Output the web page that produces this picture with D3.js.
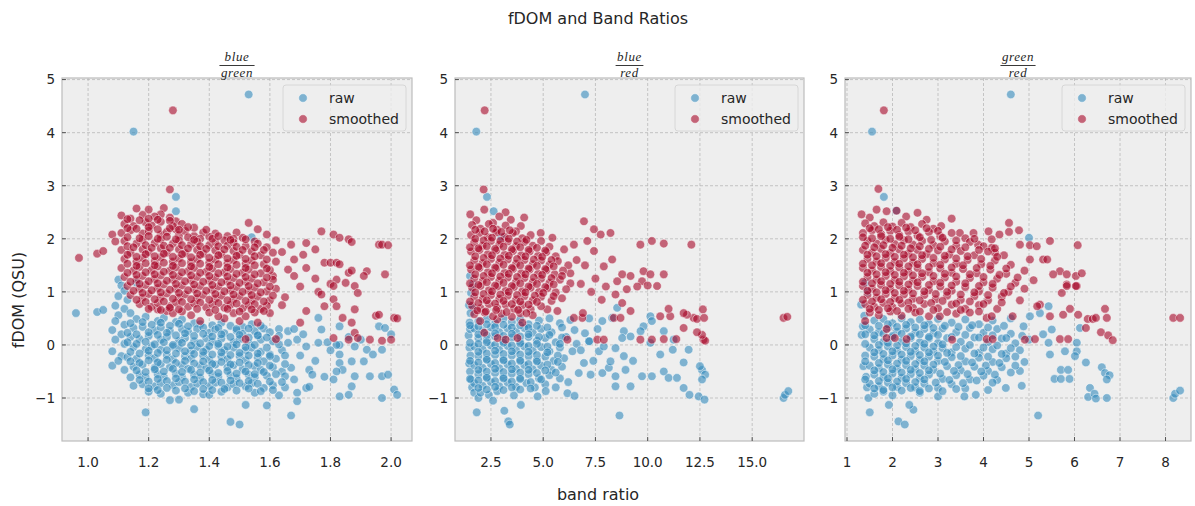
<!DOCTYPE html>
<html lang="en">
<head>
<meta charset="UTF-8">
<title>fDOM and Band Ratios</title>
<script src="https://cdn.jsdelivr.net/npm/d3@7"></script>
<style>
    body { margin: 0; background: #fff; }
    text { font-family: "DejaVu Sans", sans-serif; fill: #262626; }
    .grid line { stroke: #b2b2b2; stroke-width: 0.7; stroke-dasharray: 3,2; }
    .frame { fill: none; stroke: #bcbcbc; stroke-width: 1.2; }
    .tick-mark { stroke: #333; stroke-width: 0.8; }
    .frac { font-family: "Liberation Serif", serif; font-style: italic; font-size: 13px; letter-spacing: 0.6px; }
    .dot { stroke: #fff; stroke-width: 0.8; stroke-opacity: 0.6; fill-opacity: 0.6; }
</style>
</head>
<body>
<div id="chart"></div>
<script>
    // ---------- data ----------
    var seriesNames = ["raw", "smoothed"];
    var seriesColors = ["#348ABD", "#A60628"];
    var panelRatios = [["blue", "green"], ["blue", "red"], ["green", "red"]];
    var xDomains = [[0.914, 2.069], [0.78, 17.48], [0.956, 8.56]];
    var xTicks = [[1.0, 1.2, 1.4, 1.6, 1.8, 2.0], [2.5, 5.0, 7.5, 10.0, 12.5, 15.0], [1, 2, 3, 4, 5, 6, 7, 8]];
    var xTickFormats = [".1f", ".1f", "d"];
    var yDomain = [-1.81, 5.03];
    var yTicks = [-1, 0, 1, 2, 3, 4, 5];

    // blue / green
    var rawBlueGreen = [
        [1.53,4.72],[1.15,4.02],[1.29,2.79],[1.29,2.52],[1.54,2.03],
        [0.96,0.6],[1.03,0.62],[1.05,0.66],
        [1.1,1.23],[1.11,1.12],[1.16,1.17],[1.12,1.02],[1.1,0.92],[1.13,0.85],[1.09,0.74],[1.12,0.68],[1.1,0.56],[1.14,0.6],[1.09,0.45],[1.12,0.38],[1.08,0.28],[1.11,0.2],[1.09,0.1],[1.12,0.02],[1.08,-0.12],[1.11,-0.21],[1.08,-0.39],[1.1,-0.3],[1.12,-0.47],[1.14,-0.61],[1.15,-0.77],[1.19,-1.27],
        [1.16,0.49],[1.19,0.53],[1.23,0.45],[1.25,0.51],[1.29,0.43],[1.31,0.48],[1.35,0.41],[1.37,0.39],[1.41,0.37],[1.44,0.42],[1.47,0.36],[1.51,0.34],[1.54,0.39],[1.58,0.31],[1.56,0.19],
        [1.15,0.32],[1.18,0.34],[1.22,0.27],[1.24,0.33],[1.27,0.26],[1.31,0.3],[1.33,0.25],[1.36,0.3],[1.4,0.23],[1.42,0.29],[1.45,0.22],[1.49,0.27],[1.51,0.21],[1.55,0.26],[1.6,0.24],[1.63,0.3],[1.66,0.26],
        [1.14,0.15],[1.17,0.11],[1.2,0.17],[1.24,0.1],[1.26,0.15],[1.3,0.08],[1.32,0.13],[1.35,0.07],[1.39,0.12],[1.41,0.06],[1.44,0.12],[1.48,0.05],[1.5,0.11],[1.53,0.04],[1.57,0.1],[1.61,0.07],[1.66,0.04],[1.69,0.1],[1.72,-0.03],[1.76,0.04],[1.79,0.05],[1.83,0.0],[1.88,-0.03],[1.92,-0.09],
        [1.15,-0.04],[1.19,-0.08],[1.21,-0.02],[1.24,-0.09],[1.28,-0.03],[1.3,-0.06],[1.34,-0.11],[1.36,-0.04],[1.39,-0.09],[1.43,-0.02],[1.45,-0.1],[1.48,-0.05],[1.52,-0.1],[1.54,-0.05],[1.57,-0.13],[1.6,-0.18],[1.64,-0.1],
        [1.13,-0.23],[1.16,-0.26],[1.2,-0.2],[1.22,-0.25],[1.26,-0.19],[1.28,-0.27],[1.32,-0.21],[1.34,-0.26],[1.38,-0.2],[1.4,-0.28],[1.44,-0.22],[1.46,-0.27],[1.5,-0.21],[1.52,-0.29],[1.56,-0.23],[1.58,-0.31],[1.62,-0.26],[1.67,-0.43],
        [1.15,-0.41],[1.18,-0.37],[1.22,-0.43],[1.24,-0.36],[1.27,-0.42],[1.31,-0.38],[1.33,-0.45],[1.37,-0.39],[1.39,-0.44],[1.42,-0.37],[1.46,-0.42],[1.48,-0.38],[1.51,-0.46],[1.55,-0.4],[1.57,-0.47],[1.61,-0.42],[1.64,-0.5],
        [1.17,-0.56],[1.19,-0.61],[1.23,-0.55],[1.25,-0.6],[1.29,-0.54],[1.31,-0.61],[1.35,-0.56],[1.37,-0.62],[1.41,-0.55],[1.43,-0.6],[1.47,-0.57],[1.49,-0.63],[1.53,-0.56],[1.55,-0.61],[1.59,-0.58],[1.65,-0.59],[1.68,-0.65],
        [1.18,-0.74],[1.22,-0.78],[1.24,-0.72],[1.28,-0.76],[1.3,-0.7],[1.34,-0.79],[1.36,-0.73],[1.4,-0.77],[1.42,-0.71],[1.46,-0.8],[1.48,-0.74],[1.52,-0.78],[1.54,-0.72],[1.58,-0.81],[1.61,-0.76],[1.65,-0.8],
        [1.2,-0.88],[1.24,-0.92],[1.27,-1.04],[1.3,-1.03],[1.33,-0.9],[1.35,-1.21],[1.38,-0.93],[1.4,-0.94],[1.44,-0.88],[1.47,-1.45],[1.5,-1.5],[1.52,-1.13],[1.55,-0.9],[1.59,-1.14],[1.63,-0.95],[1.67,-1.33],[1.69,-0.9],[1.69,-1.06],[1.72,-0.81],
        [1.73,-0.47],[1.74,-0.56],[1.73,-0.79],[1.77,0.29],[1.76,0.51],[1.7,-0.2],[1.75,-0.3],[1.83,0.35],[1.82,0.0],[1.83,-0.18],[1.83,-0.34],[1.84,-0.47],[1.82,-0.5],[1.81,-0.65],[1.88,-0.59],[1.87,-0.78],[1.83,-0.97],[1.86,-0.94],[1.87,-0.31],[1.86,0.15],[1.91,-0.31],[1.93,-0.59],[1.97,-0.59],[1.99,-0.56],[1.97,-1.0],[2.01,-0.84],[2.02,-0.94],[1.96,0.35],[1.98,0.32],[1.94,-0.18],[1.97,-0.09],[2.0,0.2],[1.9,0.1],[1.8,-0.1],[1.78,-0.6],[1.68,0.3],[1.71,0.2],
        [1.14,0.41],[1.18,0.43],[1.21,0.38],[1.24,0.42],[1.27,0.36],[1.3,0.4],[1.33,0.35],[1.38,0.33],[1.43,0.32],[1.49,0.3],[1.53,0.31],[1.57,0.36],
        [1.13,0.23],[1.16,0.2],[1.2,0.24],[1.23,0.19],[1.26,0.23],[1.29,0.18],[1.32,0.22],[1.35,0.17],[1.38,0.21],[1.41,0.16],[1.44,0.2],[1.47,0.15],[1.5,0.19],[1.53,0.14],[1.56,0.18],[1.59,0.14],[1.63,0.17],
        [1.13,0.05],[1.16,0.02],[1.19,0.06],[1.22,0.01],[1.25,0.05],[1.28,0.0],[1.31,0.04],[1.34,-0.01],[1.37,0.03],[1.4,-0.02],[1.43,0.02],[1.46,-0.03],[1.49,0.01],[1.52,-0.04],[1.55,0.0],[1.59,-0.05],[1.63,0.01],
        [1.14,-0.13],[1.17,-0.16],[1.2,-0.11],[1.23,-0.15],[1.26,-0.1],[1.29,-0.16],[1.32,-0.12],[1.35,-0.17],[1.38,-0.13],[1.41,-0.18],[1.44,-0.14],[1.47,-0.19],[1.5,-0.15],[1.53,-0.2],[1.56,-0.16],[1.6,-0.21],[1.65,-0.2],
        [1.14,-0.31],[1.17,-0.34],[1.2,-0.29],[1.23,-0.33],[1.26,-0.28],[1.29,-0.34],[1.32,-0.3],[1.35,-0.35],[1.38,-0.31],[1.41,-0.36],[1.44,-0.32],[1.47,-0.37],[1.5,-0.33],[1.53,-0.38],[1.56,-0.34],[1.6,-0.39],[1.65,-0.36],
        [1.16,-0.48],[1.19,-0.51],[1.22,-0.46],[1.25,-0.5],[1.28,-0.45],[1.31,-0.51],[1.34,-0.47],[1.37,-0.52],[1.4,-0.48],[1.43,-0.53],[1.46,-0.49],[1.49,-0.54],[1.52,-0.5],[1.55,-0.55],[1.58,-0.51],[1.62,-0.55],
        [1.17,-0.66],[1.2,-0.69],[1.23,-0.64],[1.26,-0.68],[1.29,-0.63],[1.32,-0.69],[1.35,-0.65],[1.38,-0.7],[1.41,-0.66],[1.44,-0.71],[1.47,-0.67],[1.5,-0.72],[1.53,-0.68],[1.56,-0.73],[1.6,-0.69],[1.64,-0.7],
        [1.2,-0.82],[1.23,-0.85],[1.26,-0.81],[1.29,-0.86],[1.32,-0.82],[1.35,-0.87],[1.38,-0.83],[1.41,-0.85],[1.45,-0.83],[1.49,-0.86],[1.53,-0.82],[1.57,-0.87],[1.61,-0.85]
    ];
    var smoothBlueGreen = [
        [1.28,4.42],[1.27,2.93],[0.97,1.64],[1.03,1.72],[1.05,1.77],
        [1.11,2.44],[1.16,2.57],[1.2,2.55],[1.25,2.58],[1.24,2.46],[1.29,2.33],[1.29,2.18],[1.08,2.08],[1.09,1.95],[1.14,2.38],[1.18,2.45],[1.22,2.42],[1.27,2.4],
        [1.53,2.3],[1.56,2.18],[1.51,2.02],[1.59,2.08],[1.62,1.97],[1.67,1.89],[1.72,1.92],[1.77,2.14],[1.81,2.08],[1.83,2.02],[1.86,1.99],[1.87,1.94],[1.96,1.89],[1.97,1.89],[1.99,1.88],[1.42,2.1],[1.46,2.05],[1.49,2.12],[1.38,2.12],[1.35,2.05],
        [1.75,1.8],[1.71,1.7],[1.68,1.61],[1.78,1.55],[1.8,1.55],[1.82,1.55],[1.83,1.52],[1.86,1.36],[1.87,1.4],[1.92,1.39],[1.91,1.3],[1.98,1.33],[1.82,1.23],[1.85,1.17],[1.88,1.11],[1.8,1.15],[1.66,1.42],[1.61,1.3],[1.68,1.3],[1.72,1.45],[1.75,1.25],[1.64,1.75],[1.7,1.1],[1.76,1.0],[1.78,0.73],[1.72,0.64],[1.7,0.42],[1.81,0.86],[1.82,0.73],[1.84,0.51],[1.88,0.67],[1.87,0.42],[1.88,0.23],[1.86,0.1],[1.81,0.13],[1.89,0.13],[1.93,0.1],[1.97,0.08],[2.0,0.1],[1.95,0.55],[1.96,0.57],[2.01,0.51],[2.02,0.5],[1.89,0.98],[1.81,1.11],[1.77,0.95],[1.65,0.9],[1.62,0.11],[1.52,0.11],[1.56,0.42],[1.5,0.45],[1.37,0.45],[1.23,0.67],[1.26,0.64],[1.45,0.5],[1.6,0.6],[1.64,0.75],
        [1.12,2.28],[1.15,2.24],[1.19,2.31],[1.21,2.25],[1.24,2.32],[1.28,2.24],[1.31,2.28],[1.35,2.21],
        [1.11,2.11],[1.14,2.16],[1.18,2.1],[1.2,2.15],[1.24,2.08],[1.26,2.13],[1.3,2.07],[1.32,2.15],[1.37,2.0],[1.4,2.04],[1.45,1.97],[1.48,2.0],[1.55,1.95],
        [1.12,1.96],[1.16,1.91],[1.18,1.98],[1.22,1.92],[1.24,1.99],[1.28,1.91],[1.3,1.97],[1.34,1.9],[1.36,1.95],[1.4,1.88],[1.42,1.94],[1.46,1.87],[1.48,1.93],[1.52,1.86],[1.56,1.91],[1.59,1.84],
        [1.11,1.79],[1.14,1.74],[1.18,1.8],[1.2,1.75],[1.24,1.82],[1.26,1.74],[1.3,1.8],[1.32,1.73],[1.36,1.79],[1.38,1.72],[1.42,1.78],[1.44,1.71],[1.48,1.77],[1.5,1.7],[1.54,1.76],[1.57,1.69],[1.61,1.74],
        [1.12,1.62],[1.16,1.57],[1.18,1.64],[1.22,1.58],[1.24,1.65],[1.28,1.57],[1.3,1.63],[1.34,1.56],[1.36,1.62],[1.4,1.55],[1.42,1.61],[1.46,1.54],[1.48,1.6],[1.52,1.53],[1.54,1.59],[1.58,1.52],[1.62,1.57],
        [1.11,1.45],[1.15,1.4],[1.17,1.47],[1.21,1.41],[1.23,1.48],[1.27,1.4],[1.29,1.46],[1.33,1.39],[1.35,1.45],[1.39,1.38],[1.41,1.44],[1.45,1.37],[1.47,1.43],[1.51,1.36],[1.53,1.42],[1.57,1.35],[1.6,1.41],
        [1.12,1.28],[1.16,1.23],[1.18,1.3],[1.22,1.24],[1.24,1.31],[1.28,1.23],[1.3,1.29],[1.34,1.22],[1.36,1.28],[1.4,1.21],[1.42,1.27],[1.46,1.2],[1.48,1.26],[1.52,1.19],[1.54,1.25],[1.58,1.18],[1.61,1.23],
        [1.13,1.11],[1.17,1.06],[1.19,1.13],[1.23,1.07],[1.25,1.14],[1.29,1.06],[1.31,1.12],[1.35,1.05],[1.37,1.11],[1.41,1.04],[1.43,1.1],[1.47,1.03],[1.49,1.09],[1.53,1.02],[1.55,1.08],[1.59,1.01],[1.62,1.06],
        [1.14,0.94],[1.18,0.89],[1.2,0.96],[1.24,0.9],[1.26,0.97],[1.3,0.89],[1.32,0.95],[1.36,0.88],[1.38,0.94],[1.42,0.87],[1.44,0.93],[1.48,0.86],[1.5,0.92],[1.54,0.85],[1.56,0.91],[1.6,0.84],
        [1.17,0.77],[1.21,0.72],[1.23,0.79],[1.27,0.73],[1.29,0.8],[1.33,0.72],[1.35,0.78],[1.39,0.71],[1.41,0.77],[1.45,0.7],[1.47,0.76],[1.51,0.69],[1.53,0.75],[1.57,0.68],[1.59,0.74],
        [1.28,0.6],[1.31,0.63],[1.34,0.56],[1.4,0.61],[1.43,0.54],[1.48,0.6],[1.52,0.54],[1.55,0.61],
        [1.13,2.37],[1.17,2.35],[1.2,2.38],[1.23,2.36],[1.27,2.34],
        [1.13,2.2],[1.16,2.19],[1.2,2.22],[1.23,2.18],[1.27,2.2],[1.3,2.17],[1.33,2.22],[1.39,2.17],
        [1.13,2.03],[1.17,2.01],[1.2,2.05],[1.23,2.0],[1.26,2.04],[1.29,1.99],[1.33,2.03],[1.35,1.98],[1.41,2.0],[1.43,2.05],[1.47,1.98],[1.52,1.99],
        [1.13,1.86],[1.15,1.84],[1.19,1.88],[1.21,1.83],[1.25,1.87],[1.27,1.83],[1.31,1.88],[1.33,1.82],[1.37,1.86],[1.39,1.81],[1.43,1.86],[1.45,1.8],[1.49,1.85],[1.51,1.79],[1.55,1.84],[1.58,1.79],
        [1.13,1.7],[1.16,1.66],[1.19,1.71],[1.22,1.67],[1.25,1.72],[1.28,1.66],[1.31,1.71],[1.34,1.65],[1.37,1.7],[1.4,1.64],[1.43,1.69],[1.46,1.63],[1.49,1.68],[1.52,1.62],[1.55,1.67],[1.59,1.61],
        [1.13,1.53],[1.16,1.49],[1.19,1.54],[1.22,1.5],[1.25,1.55],[1.28,1.49],[1.31,1.54],[1.34,1.48],[1.37,1.53],[1.4,1.47],[1.43,1.52],[1.46,1.46],[1.49,1.51],[1.52,1.45],[1.55,1.5],[1.59,1.44],
        [1.13,1.36],[1.16,1.32],[1.19,1.37],[1.22,1.33],[1.25,1.38],[1.28,1.32],[1.31,1.37],[1.34,1.31],[1.37,1.36],[1.4,1.3],[1.43,1.35],[1.46,1.29],[1.49,1.34],[1.52,1.28],[1.55,1.33],[1.59,1.27],
        [1.14,1.19],[1.17,1.15],[1.2,1.2],[1.23,1.16],[1.26,1.21],[1.29,1.15],[1.32,1.2],[1.35,1.14],[1.38,1.19],[1.41,1.13],[1.44,1.18],[1.47,1.12],[1.5,1.17],[1.53,1.11],[1.56,1.16],[1.6,1.1],
        [1.15,1.02],[1.18,0.98],[1.21,1.03],[1.24,0.99],[1.27,1.04],[1.3,0.98],[1.33,1.03],[1.36,0.97],[1.39,1.02],[1.42,0.96],[1.45,1.01],[1.48,0.95],[1.51,1.0],[1.54,0.94],[1.57,0.99],[1.61,0.93],
        [1.16,0.85],[1.19,0.81],[1.22,0.86],[1.25,0.82],[1.28,0.87],[1.31,0.81],[1.34,0.86],[1.37,0.8],[1.4,0.85],[1.43,0.79],[1.46,0.84],[1.49,0.78],[1.52,0.83],[1.55,0.77],[1.58,0.82],
        [1.2,0.68],[1.24,0.66],[1.27,0.7],[1.3,0.67],[1.36,0.68],[1.42,0.66],[1.46,0.68],[1.5,0.63],[1.54,0.67],[1.58,0.64]
    ];

    // blue / red
    var rawBlueRed = [
        [7.0,4.72],[1.8,4.02],[2.31,2.79],[2.63,2.52],[3.0,2.03],
        [1.5,1.3],[1.63,1.14],[1.55,0.98],[1.63,0.7],[1.45,0.75],[1.52,0.6],[1.48,0.42],[1.43,0.18],[1.5,0.3],[1.47,-0.05],[1.52,-0.2],[1.46,-0.35],[1.5,-0.5],[1.55,-0.65],[1.6,-0.8],[1.7,-0.9],[1.82,-1.27],[1.9,-1.0],
        [1.9,0.45],[2.3,0.49],[2.7,0.41],[3.1,0.5],[3.5,0.43],[3.9,0.48],[4.3,0.39],[4.8,0.46],[5.3,0.5],[5.8,0.41],[6.3,0.47],[7.2,0.5],[7.83,0.45],[8.3,0.51],[8.54,0.7],
        [1.7,0.31],[2.1,0.26],[2.5,0.33],[2.9,0.24],[3.3,0.31],[3.7,0.25],[4.1,0.32],[4.5,0.23],[4.9,0.3],[5.4,0.24],[5.9,0.33],[6.5,0.28],[7.0,0.22],
        [1.9,0.13],[2.3,0.09],[2.7,0.16],[3.1,0.07],[3.5,0.14],[3.9,0.06],[4.3,0.15],[4.7,0.08],[5.1,0.13],[5.6,0.05],[6.1,0.15],[7.2,0.07],[6.6,0.02],
        [1.7,-0.03],[2.1,-0.08],[2.5,-0.01],[2.9,-0.09],[3.3,-0.02],[3.7,-0.1],[4.1,-0.03],[4.5,-0.11],[4.9,-0.04],[5.3,-0.12],[5.8,-0.05],[6.4,-0.12],[7.67,-0.12],[7.9,-0.03],
        [1.9,-0.21],[2.3,-0.26],[2.7,-0.19],[3.1,-0.27],[3.5,-0.2],[3.9,-0.28],[4.3,-0.21],[4.7,-0.29],[5.1,-0.22],[5.5,-0.3],[6.0,-0.25],[6.95,-0.34],
        [1.7,-0.38],[2.1,-0.43],[2.5,-0.36],[2.9,-0.44],[3.3,-0.37],[3.7,-0.45],[4.1,-0.38],[4.5,-0.46],[4.9,-0.39],[5.4,-0.47],[5.9,-0.41],[6.7,-0.53],
        [1.9,-0.55],[2.3,-0.6],[2.7,-0.53],[3.1,-0.61],[3.5,-0.54],[3.9,-0.62],[4.3,-0.55],[4.8,-0.63],[5.3,-0.57],[5.8,-0.63],[7.27,-0.56],[7.83,-0.53],[8.14,-0.43],[8.22,-0.31],
        [1.7,-0.72],[2.1,-0.77],[2.5,-0.7],[2.9,-0.78],[3.3,-0.71],[3.7,-0.79],[4.2,-0.72],[4.6,-0.8],[5.1,-0.74],[5.6,-0.8],
        [2.0,-0.9],[2.4,-0.94],[2.8,-0.87],[3.14,-1.24],[3.33,-1.44],[3.4,-1.5],[3.93,-1.13],[4.73,-0.97],[5.12,-0.87],[6.16,-0.91],[6.5,-0.96],[2.6,-1.05],[3.6,-0.95],
        [8.65,-1.33],[8.46,-0.78],[9.18,-0.78],[9.73,-0.59],[10.2,-0.59],[10.77,-0.5],[11.0,-0.62],[11.4,-0.62],[11.72,-0.81],[12.0,-0.94],[12.44,-0.97],[12.72,-1.03],[12.6,-0.47],[12.75,-0.56],[12.6,-0.65],[12.5,-0.4],[11.96,-0.09],[11.72,-0.33],[11.2,-0.09],[10.6,-0.18],[10.77,0.26],[11.24,0.1],[10.13,0.54],[10.2,0.45],[9.8,0.35],[9.66,0.26],[10.13,0.04],[9.18,0.16],[8.86,0.26],[8.78,0.13],[8.46,-0.06],[8.86,-0.21],[8.94,-0.47],[8.46,-0.59],[7.2,0.07],[16.5,-1.0],[16.57,-0.94],[16.73,-0.87],[7.6,0.3],[6.8,-0.1],[7.4,-0.3],[9.3,-0.3],[6.2,-0.7],
        [1.5,0.37],[1.9,0.35],[2.3,0.39],[2.7,0.34],[3.1,0.38],[3.5,0.33],[3.9,0.37],[4.3,0.32],[4.7,0.36],[5.2,0.33],
        [1.9,0.2],[2.3,0.18],[2.7,0.22],[3.1,0.17],[3.5,0.21],[3.9,0.16],[4.3,0.2],[4.8,0.15],[5.3,0.19],[5.9,0.14],
        [1.5,0.04],[1.9,0.02],[2.3,0.05],[2.7,0.0],[3.1,0.04],[3.5,-0.01],[3.9,0.03],[4.3,-0.02],[4.7,0.02],[5.2,-0.03],[5.8,0.02],
        [1.9,-0.13],[2.3,-0.16],[2.7,-0.11],[3.1,-0.17],[3.5,-0.12],[3.9,-0.18],[4.3,-0.13],[4.7,-0.19],[5.2,-0.14],[5.7,-0.2],
        [1.5,-0.3],[1.9,-0.33],[2.3,-0.28],[2.7,-0.34],[3.1,-0.29],[3.5,-0.35],[3.9,-0.3],[4.3,-0.36],[4.7,-0.31],[5.2,-0.37],[5.7,-0.32],
        [1.9,-0.47],[2.3,-0.5],[2.7,-0.45],[3.1,-0.51],[3.5,-0.46],[3.9,-0.52],[4.3,-0.47],[4.7,-0.53],[5.1,-0.48],[5.6,-0.52],
        [1.5,-0.64],[1.9,-0.67],[2.3,-0.62],[2.7,-0.68],[3.1,-0.63],[3.5,-0.69],[3.9,-0.64],[4.4,-0.7],[4.9,-0.65],
        [1.9,-0.81],[2.3,-0.84],[2.7,-0.79],[3.1,-0.85],[3.5,-0.8],[3.9,-0.84],[4.4,-0.82]
    ];
    var smoothBlueRed = [
        [2.2,4.42],[2.15,2.93],[16.5,0.51],[16.68,0.53],
        [1.51,2.46],[2.18,2.55],[3.2,2.5],[3.45,2.36],[4.09,2.4],[3.93,2.24],[4.88,2.11],[5.44,2.02],[6.47,1.89],[6.95,2.33],[7.43,2.18],[7.75,2.08],[8.22,2.11],[7.11,1.96],[9.65,1.89],[10.2,1.96],[10.77,1.91],[12.09,1.89],[1.8,2.35],[2.6,2.3],[2.9,2.42],
        [6.0,1.8],[7.9,1.48],[8.3,1.61],[7.43,1.77],[8.78,1.33],[9.18,1.3],[9.8,1.39],[10.13,1.33],[10.77,1.33],[9.73,1.2],[10.45,1.11],[8.54,1.2],[7.0,1.5],[6.6,1.6],[6.3,1.35],[7.5,1.25],[8.0,1.1],[9.0,1.05],[9.5,1.1],[10.0,1.12],[7.3,1.0],[6.8,1.15],[8.46,0.95],[8.78,0.79],[7.8,0.85],
        [2.82,0.13],[3.2,0.1],[3.77,0.13],[6.16,0.1],[7.59,0.1],[7.9,0.1],[9.65,0.1],[10.2,0.1],[10.77,0.11],[11.37,0.11],[12.67,0.1],[12.75,0.08],[12.6,0.19],[12.36,0.24],[11.72,0.32],[12.2,0.51],[12.36,0.49],[12.64,0.67],[12.7,0.51],[11.88,0.57],[11.72,0.6],[11.08,0.54],[10.6,0.54],[11.0,0.68],[9.18,0.64],[8.38,0.51],[8.7,0.51],[6.87,0.51],[6.47,0.51],[6.9,0.6],[2.18,0.23],[1.98,0.45],[2.8,0.48],[4.0,0.42],[5.2,0.67],[5.68,0.64],
        [1.6,2.26],[2.0,2.19],[2.4,2.28],[2.8,2.17],[3.2,2.25],[3.7,2.14],
        [1.55,2.07],[1.95,2.11],[2.35,2.03],[2.75,2.12],[3.15,2.04],[3.55,2.11],[4.0,2.01],[4.4,2.07],
        [1.7,1.93],[2.1,1.87],[2.5,1.96],[2.9,1.89],[3.3,1.95],[3.7,1.86],[4.1,1.94],[4.5,1.87],[4.9,1.96],[5.3,1.85],
        [1.55,1.76],[1.95,1.79],[2.35,1.71],[2.75,1.78],[3.15,1.7],[3.55,1.77],[3.95,1.69],[4.35,1.76],[4.75,1.68],[5.15,1.75],[5.6,1.67],
        [1.7,1.59],[2.1,1.54],[2.5,1.62],[2.9,1.55],[3.3,1.61],[3.7,1.53],[4.1,1.6],[4.5,1.52],[4.9,1.59],[5.3,1.51],[5.7,1.58],[6.2,1.5],
        [1.55,1.42],[1.95,1.45],[2.35,1.37],[2.75,1.44],[3.15,1.36],[3.55,1.43],[3.95,1.35],[4.35,1.42],[4.75,1.34],[5.15,1.41],[5.55,1.33],[5.95,1.4],
        [1.7,1.25],[2.1,1.2],[2.5,1.28],[2.9,1.21],[3.3,1.27],[3.7,1.19],[4.1,1.26],[4.5,1.18],[4.9,1.25],[5.3,1.17],[5.8,1.23],[6.3,1.16],
        [1.6,1.08],[2.0,1.11],[2.4,1.03],[2.8,1.1],[3.2,1.02],[3.6,1.09],[4.0,1.01],[4.4,1.08],[4.8,1.0],[5.2,1.07],[5.6,0.99],[6.1,1.05],
        [1.7,0.91],[2.1,0.86],[2.5,0.94],[2.9,0.87],[3.3,0.93],[3.7,0.85],[4.1,0.92],[4.5,0.84],[4.9,0.91],[5.4,0.83],[5.9,0.88],
        [1.6,0.74],[2.0,0.69],[2.4,0.77],[2.8,0.7],[3.2,0.76],[3.6,0.68],[4.0,0.75],[4.4,0.67],[4.9,0.73],
        [1.7,0.58],[2.2,0.61],[2.6,0.54],[3.0,0.59],[3.5,0.53],[3.9,0.6],[4.5,0.56],
        [1.75,2.17],[2.2,2.14],[2.6,2.19],[3.0,2.13],[3.4,2.16],
        [1.75,2.0],[2.15,1.97],[2.55,2.02],[2.95,1.96],[3.35,2.0],[3.75,1.95],[4.2,1.98],
        [1.5,1.84],[1.9,1.82],[2.3,1.86],[2.7,1.81],[3.1,1.85],[3.5,1.8],[3.9,1.84],[4.3,1.79],[4.7,1.83],[5.1,1.78],
        [1.75,1.67],[2.15,1.64],[2.55,1.69],[2.95,1.63],[3.35,1.68],[3.75,1.62],[4.15,1.67],[4.55,1.61],[4.95,1.66],[5.4,1.6],
        [1.5,1.5],[1.9,1.47],[2.3,1.52],[2.7,1.46],[3.1,1.51],[3.5,1.45],[3.9,1.5],[4.3,1.44],[4.7,1.49],[5.1,1.43],[5.5,1.48],
        [1.75,1.33],[2.15,1.3],[2.55,1.35],[2.95,1.29],[3.35,1.34],[3.75,1.28],[4.15,1.33],[4.55,1.27],[4.95,1.32],[5.4,1.26],[5.9,1.3],
        [1.5,1.16],[1.9,1.13],[2.3,1.18],[2.7,1.12],[3.1,1.17],[3.5,1.11],[3.9,1.16],[4.3,1.1],[4.7,1.15],[5.1,1.09],[5.5,1.14],
        [1.75,0.99],[2.15,0.96],[2.55,1.01],[2.95,0.95],[3.35,1.0],[3.75,0.94],[4.15,0.99],[4.6,0.93],[5.0,0.98],[5.5,0.92],
        [1.5,0.82],[1.9,0.79],[2.3,0.84],[2.7,0.78],[3.1,0.83],[3.5,0.77],[3.9,0.82],[4.3,0.76],[4.7,0.81],
        [1.85,0.65],[2.25,0.63],[2.75,0.66],[3.25,0.62],[3.8,0.66],[4.2,0.6]
    ];

    // green / red
    var rawGreenRed = [
        [4.6,4.72],[1.55,4.02],[1.81,2.79],[2.08,2.53],[5.0,2.02],
        [1.4,1.17],[1.31,0.76],[1.32,0.19],[1.45,1.0],[1.38,0.55],[1.35,0.35],[1.4,-0.2],[1.36,-0.4],[1.42,-0.6],[1.44,-0.8],[1.5,-1.27],[1.47,-1.0],
        [1.6,0.46],[1.8,0.49],[2.0,0.41],[2.2,0.5],[2.4,0.43],[2.6,0.48],[2.8,0.4],[3.0,0.49],[3.3,0.42],[3.6,0.48],[3.9,0.39],[4.2,0.46],[4.6,0.5],[5.02,0.54],[5.24,0.6],[5.43,0.73],[4.88,0.35],
        [1.5,0.29],[1.7,0.24],[1.9,0.32],[2.1,0.25],[2.3,0.31],[2.5,0.23],[2.7,0.3],[2.9,0.22],[3.1,0.31],[3.4,0.24],[3.7,0.32],[4.0,0.23],[4.3,0.3],[4.6,0.21],[5.5,0.29],[5.31,0.2],[6.12,0.32],
        [1.6,0.11],[1.8,0.06],[2.0,0.14],[2.2,0.07],[2.4,0.13],[2.6,0.05],[2.8,0.12],[3.0,0.04],[3.2,0.13],[3.5,0.06],[3.8,0.14],[4.1,0.05],[4.4,0.12],[4.7,0.03],[5.0,0.1],[5.43,0.04],[6.05,0.04],
        [1.5,-0.05],[1.7,-0.1],[1.9,-0.03],[2.1,-0.11],[2.3,-0.04],[2.5,-0.12],[2.7,-0.05],[2.9,-0.13],[3.1,-0.06],[3.3,-0.14],[3.6,-0.07],[3.9,-0.15],[4.2,-0.08],[4.5,-0.16],[4.8,-0.1],[5.46,-0.18],[5.79,-0.12],[6.05,-0.12],[6.01,-0.21],
        [1.6,-0.22],[1.8,-0.27],[2.0,-0.2],[2.2,-0.28],[2.4,-0.21],[2.6,-0.29],[2.8,-0.22],[3.0,-0.3],[3.3,-0.23],[3.6,-0.31],[3.9,-0.24],[4.2,-0.32],[4.5,-0.25],[4.9,-0.32],[6.25,-0.33],
        [1.5,-0.39],[1.7,-0.44],[1.9,-0.37],[2.1,-0.45],[2.3,-0.38],[2.5,-0.46],[2.7,-0.39],[2.9,-0.47],[3.2,-0.4],[3.5,-0.48],[3.8,-0.41],[4.1,-0.49],[4.4,-0.42],[4.8,-0.49],[5.7,-0.47],[5.86,-0.47],[6.6,-0.42],
        [1.6,-0.56],[1.8,-0.61],[2.0,-0.54],[2.2,-0.62],[2.4,-0.55],[2.6,-0.63],[2.8,-0.56],[3.1,-0.64],[3.4,-0.57],[3.7,-0.65],[4.0,-0.58],[4.3,-0.66],[5.56,-0.64],[5.7,-0.64],[5.89,-0.64],[6.67,-0.53],[6.77,-0.57],[6.71,-0.65],
        [1.5,-0.73],[1.7,-0.78],[1.9,-0.71],[2.1,-0.79],[2.3,-0.72],[2.5,-0.8],[2.7,-0.73],[3.0,-0.81],[3.3,-0.74],[3.6,-0.82],[4.49,-0.81],[4.84,-0.77],[6.34,-0.81],
        [1.6,-0.92],[1.8,-0.88],[1.92,-1.13],[2.13,-1.44],[2.27,-1.5],[2.46,-1.22],[2.37,-1.13],[2.0,-0.95],[2.6,-0.9],[3.0,-0.97],[3.58,-0.97],[3.83,-0.94],[5.2,-1.33],[6.3,-0.98],[6.44,-0.92],[6.47,-1.01],[6.71,-1.0],[8.17,-1.0],[8.21,-0.92],[8.32,-0.86],[4.1,-0.85],
        [1.4,0.37],[1.7,0.36],[1.9,0.39],[2.1,0.34],[2.3,0.38],[2.5,0.33],[2.7,0.37],[2.9,0.32],[3.15,0.36],[3.45,0.34],[3.75,0.37],[4.1,0.33],[4.45,0.36],
        [1.4,0.2],[1.6,0.18],[1.8,0.21],[2.0,0.17],[2.2,0.21],[2.4,0.16],[2.6,0.2],[2.8,0.15],[3.0,0.19],[3.3,0.15],[3.6,0.19],[3.9,0.14],[4.2,0.18],[4.5,0.13],[4.85,0.17],
        [1.4,0.02],[1.7,0.0],[1.9,0.04],[2.1,-0.01],[2.3,0.03],[2.5,-0.02],[2.7,0.02],[2.9,-0.03],[3.1,0.01],[3.4,-0.04],[3.7,0.0],[4.0,-0.05],[4.3,-0.01],[4.6,-0.06],
        [1.6,-0.14],[1.8,-0.17],[2.0,-0.12],[2.2,-0.18],[2.4,-0.13],[2.6,-0.19],[2.8,-0.14],[3.0,-0.2],[3.2,-0.15],[3.5,-0.21],[3.8,-0.16],[4.1,-0.22],[4.4,-0.17],[4.7,-0.22],
        [1.4,-0.31],[1.7,-0.34],[1.9,-0.29],[2.1,-0.35],[2.3,-0.3],[2.5,-0.36],[2.7,-0.31],[2.9,-0.37],[3.15,-0.32],[3.45,-0.38],[3.75,-0.33],[4.05,-0.39],[4.35,-0.34],[4.7,-0.39],
        [1.6,-0.48],[1.8,-0.51],[2.0,-0.46],[2.2,-0.52],[2.4,-0.47],[2.6,-0.53],[2.8,-0.48],[3.05,-0.54],[3.35,-0.49],[3.65,-0.55],[3.95,-0.5],[4.25,-0.56],[4.6,-0.52],
        [1.4,-0.65],[1.7,-0.68],[1.9,-0.63],[2.1,-0.69],[2.3,-0.64],[2.5,-0.7],[2.7,-0.65],[2.95,-0.71],[3.25,-0.66],[3.55,-0.72],[3.85,-0.67],[4.2,-0.71],
        [1.6,-0.82],[1.8,-0.85],[2.0,-0.8],[2.2,-0.86],[2.4,-0.81],[2.6,-0.87],[2.8,-0.82],[3.1,-0.87],[3.4,-0.83]
    ];
    var smoothGreenRed = [
        [1.81,4.42],[1.69,2.94],[8.17,0.51],[8.32,0.51],
        [1.32,2.46],[1.65,2.55],[1.87,2.52],[2.09,2.53],[2.55,2.49],[2.75,2.36],[3.07,2.24],[3.3,2.38],[3.48,2.11],[3.78,2.11],[4.11,2.14],[4.18,1.99],[4.35,2.08],[4.56,2.3],[4.78,2.16],[4.56,2.13],[4.8,1.89],[5.02,1.88],[5.17,1.86],[5.46,1.96],[6.07,1.88],[5.31,1.61],[5.4,1.61],[5.02,1.61],[5.68,1.39],[5.83,1.33],[6.03,1.3],[6.16,1.35],[6.05,1.11],[5.83,1.14],[5.53,1.33],[4.18,1.83],[4.25,1.74],[3.88,1.89],[1.5,2.4],[2.3,2.42],
        [1.87,0.13],[2.05,0.13],[2.31,0.11],[3.31,0.1],[4.07,0.11],[4.2,0.11],[4.91,0.1],[5.13,0.11],[5.68,0.11],[5.86,0.11],[6.58,0.24],[6.74,0.18],[6.84,0.09],[6.25,0.32],[6.29,0.49],[6.4,0.49],[6.47,0.51],[6.71,0.51],[6.67,0.68],[6.08,0.57],[5.9,0.68],[5.75,0.57],[5.46,0.54],[5.72,0.98],[5.83,1.11],[6.03,1.11],[5.24,0.76],[5.18,0.73],[4.64,0.54],[4.07,0.51],[4.18,0.54],[1.4,0.45],[1.87,0.3],[3.04,0.54],
        [1.4,2.29],[1.6,2.24],[1.8,2.31],[2.0,2.23],[2.2,2.3],[2.4,2.22],[2.65,2.28],[2.9,2.19],
        [1.35,2.11],[1.55,2.16],[1.75,2.09],[1.95,2.15],[2.15,2.07],[2.35,2.14],[2.55,2.06],[2.8,2.13],[3.05,2.05],[3.3,2.11],[3.6,2.01],
        [1.45,1.96],[1.65,1.91],[1.85,1.98],[2.05,1.9],[2.25,1.97],[2.45,1.89],[2.65,1.96],[2.9,1.88],[3.15,1.95],[3.4,1.87],[3.7,1.94],[4.0,1.86],
        [1.35,1.79],[1.55,1.74],[1.75,1.81],[1.95,1.73],[2.15,1.8],[2.35,1.72],[2.55,1.79],[2.75,1.71],[3.0,1.78],[3.25,1.7],[3.5,1.77],[3.8,1.69],[4.1,1.76],[4.45,1.69],
        [1.45,1.62],[1.65,1.57],[1.85,1.64],[2.05,1.56],[2.25,1.63],[2.45,1.55],[2.65,1.62],[2.9,1.54],[3.15,1.61],[3.4,1.53],[3.65,1.6],[3.95,1.52],[4.25,1.59],[4.6,1.51],
        [1.35,1.45],[1.55,1.4],[1.75,1.47],[1.95,1.39],[2.15,1.46],[2.35,1.38],[2.55,1.45],[2.8,1.37],[3.05,1.44],[3.3,1.36],[3.55,1.43],[3.85,1.35],[4.15,1.42],[4.5,1.34],[4.9,1.4],
        [1.45,1.28],[1.65,1.23],[1.85,1.3],[2.05,1.22],[2.25,1.29],[2.45,1.21],[2.65,1.28],[2.9,1.2],[3.15,1.27],[3.4,1.19],[3.7,1.26],[4.0,1.18],[4.3,1.25],[4.7,1.17],[5.1,1.22],
        [1.35,1.11],[1.55,1.06],[1.75,1.13],[1.95,1.05],[2.15,1.12],[2.35,1.04],[2.55,1.11],[2.8,1.03],[3.05,1.1],[3.3,1.02],[3.6,1.09],[3.9,1.01],[4.2,1.08],[4.55,1.0],[4.9,1.06],
        [1.45,0.94],[1.65,0.89],[1.85,0.96],[2.05,0.88],[2.25,0.95],[2.45,0.87],[2.7,0.94],[2.95,0.86],[3.2,0.93],[3.5,0.85],[3.8,0.92],[4.1,0.84],[4.4,0.91],[4.8,0.84],
        [1.4,0.77],[1.6,0.72],[1.8,0.79],[2.0,0.71],[2.2,0.78],[2.45,0.7],[2.7,0.77],[3.0,0.69],[3.3,0.76],[3.6,0.68],[3.9,0.75],[4.3,0.68],
        [1.5,0.61],[1.7,0.56],[1.95,0.63],[2.2,0.55],[2.5,0.61],[2.8,0.54],[3.4,0.59],[3.7,0.61],
        [1.5,2.2],[1.7,2.18],[1.9,2.22],[2.1,2.17],[2.3,2.21],[2.5,2.16],[2.75,2.2],[3.0,2.15],
        [1.35,2.03],[1.55,2.01],[1.75,2.05],[1.95,2.0],[2.15,2.04],[2.35,1.99],[2.6,2.03],[2.85,1.98],[3.1,2.02],[3.4,1.97],[3.8,2.0],
        [1.4,1.87],[1.6,1.84],[1.8,1.88],[2.0,1.83],[2.2,1.87],[2.4,1.82],[2.6,1.86],[2.8,1.81],[3.05,1.85],[3.3,1.8],[3.6,1.84],[3.9,1.79],[4.25,1.82],
        [1.45,1.7],[1.65,1.67],[1.85,1.71],[2.05,1.66],[2.25,1.7],[2.45,1.65],[2.65,1.69],[2.9,1.64],[3.15,1.68],[3.4,1.63],[3.65,1.67],[3.95,1.62],[4.3,1.66],
        [1.35,1.53],[1.55,1.5],[1.75,1.54],[1.95,1.49],[2.15,1.53],[2.35,1.48],[2.55,1.52],[2.8,1.47],[3.05,1.51],[3.3,1.46],[3.55,1.5],[3.85,1.45],[4.15,1.49],[4.5,1.44],
        [1.45,1.36],[1.65,1.33],[1.85,1.37],[2.05,1.32],[2.25,1.36],[2.45,1.31],[2.65,1.35],[2.9,1.3],[3.15,1.34],[3.4,1.29],[3.7,1.33],[4.0,1.28],[4.35,1.32],[4.75,1.27],
        [1.35,1.19],[1.55,1.16],[1.75,1.2],[1.95,1.15],[2.15,1.19],[2.35,1.14],[2.55,1.18],[2.8,1.13],[3.05,1.17],[3.3,1.12],[3.6,1.16],[3.9,1.11],[4.2,1.15],[4.6,1.1],
        [1.45,1.02],[1.65,0.99],[1.85,1.03],[2.05,0.98],[2.25,1.02],[2.45,0.97],[2.7,1.01],[2.95,0.96],[3.2,1.0],[3.5,0.95],[3.8,0.99],[4.1,0.94],[4.45,0.98],
        [1.35,0.85],[1.55,0.82],[1.75,0.86],[1.95,0.81],[2.15,0.85],[2.35,0.8],[2.6,0.84],[2.85,0.79],[3.1,0.83],[3.4,0.78],[3.7,0.82],[4.0,0.77],[4.4,0.8],
        [1.5,0.68],[1.7,0.66],[1.9,0.69],[2.1,0.64],[2.35,0.68],[2.6,0.63],[2.9,0.66],[3.2,0.62],[3.5,0.66],[3.9,0.63]
    ];

    var panelData = [
        [rawBlueGreen, smoothBlueGreen],
        [rawBlueRed, smoothBlueRed],
        [rawGreenRed, smoothGreenRed]
    ];

    // ---------- layout ----------
    var width = 1195, height = 506;
    var panelLeft = [62, 455, 845];
    var panelWidth = [350, 349, 346];
    var plotTop = 78, plotBottom = 441;

    var svg = d3.select("#chart").append("svg")
        .attr("width", width)
        .attr("height", height);

    svg.append("text")
        .attr("x", 598).attr("y", 24)
        .attr("text-anchor", "middle")
        .style("font-size", "16px")
        .text("fDOM and Band Ratios");

    svg.append("text")
        .attr("x", 598).attr("y", 500)
        .attr("text-anchor", "middle")
        .style("font-size", "16px")
        .text("band ratio");

    svg.append("text")
        .attr("transform", "translate(24,300) rotate(-90)")
        .attr("text-anchor", "middle")
        .style("font-size", "16px")
        .text("fDOM (QSU)");

    var y = d3.scaleLinear().domain(yDomain).range([plotBottom, plotTop]);

    panelData.forEach(function (series, p) {
        var left = panelLeft[p], right = left + panelWidth[p];
        var x = d3.scaleLinear().domain(xDomains[p]).range([left, right]);
        var g = svg.append("g");

        g.append("rect")
            .attr("x", left).attr("y", plotTop)
            .attr("width", right - left).attr("height", plotBottom - plotTop)
            .attr("fill", "#eeeeee");

        // grid
        var grid = g.append("g").attr("class", "grid");
        grid.selectAll(".vx").data(xTicks[p]).enter().append("line")
            .attr("x1", function (d) { return x(d); }).attr("x2", function (d) { return x(d); })
            .attr("y1", plotTop).attr("y2", plotBottom);
        grid.selectAll(".hy").data(yTicks).enter().append("line")
            .attr("x1", left).attr("x2", right)
            .attr("y1", function (d) { return y(d); }).attr("y2", function (d) { return y(d); });

        // points: raw first, smoothed on top
        series.forEach(function (pts, s) {
            g.append("g").selectAll("circle")
                .data(pts)
                .enter()
                .append("circle")
                .attr("class", "dot")
                .attr("cx", function (d) { return x(d[0]); })
                .attr("cy", function (d) { return y(d[1]); })
                .attr("r", 4.3)
                .attr("fill", seriesColors[s]);
        });

        g.append("rect").attr("class", "frame")
            .attr("x", left).attr("y", plotTop)
            .attr("width", right - left).attr("height", plotBottom - plotTop);

        // ticks (inward) + labels
        var xf = d3.format(xTickFormats[p]);
        xTicks[p].forEach(function (t) {
            g.append("line").attr("class", "tick-mark")
                .attr("x1", x(t)).attr("x2", x(t))
                .attr("y1", plotBottom).attr("y2", plotBottom - 4);
            g.append("text")
                .attr("x", x(t)).attr("y", plotBottom + 26)
                .attr("text-anchor", "middle")
                .style("font-size", "13.5px")
                .text(xf(t));
        });
        yTicks.forEach(function (t) {
            g.append("line").attr("class", "tick-mark")
                .attr("x1", left).attr("x2", left + 4)
                .attr("y1", y(t)).attr("y2", y(t));
            g.append("text")
                .attr("x", left - 7).attr("y", y(t))
                .attr("dy", "0.36em")
                .attr("text-anchor", "end")
                .style("font-size", "13.5px")
                .text(d3.format("d")(t));
        });

        // fraction title
        var cx = (left + right) / 2;
        var num = g.append("text").attr("class", "frac")
            .attr("x", cx).attr("y", plotTop - 17)
            .attr("text-anchor", "middle")
            .text(panelRatios[p][0]);
        var den = g.append("text").attr("class", "frac")
            .attr("x", cx).attr("y", plotTop - 1.5)
            .attr("text-anchor", "middle")
            .text(panelRatios[p][1]);
        var bw = Math.max(num.node().getComputedTextLength(), den.node().getComputedTextLength()) + 3;
        g.append("line")
            .attr("x1", cx - bw / 2).attr("x2", cx + bw / 2)
            .attr("y1", plotTop - 12.5).attr("y2", plotTop - 12.5)
            .attr("stroke", "#222").attr("stroke-width", 0.9);

        // legend
        var lx = right - 129, ly = plotTop + 7;
        var leg = g.append("g");
        leg.append("rect")
            .attr("x", lx).attr("y", ly).attr("width", 123).attr("height", 46)
            .attr("rx", 3)
            .attr("fill", "#eeeeee").attr("fill-opacity", 0.8)
            .attr("stroke", "#d0d0d0").attr("stroke-width", 0.8);
        seriesNames.forEach(function (name, s) {
            leg.append("circle").attr("class", "dot")
                .attr("cx", lx + 20).attr("cy", ly + 13 + s * 21)
                .attr("r", 4.3)
                .attr("fill", seriesColors[s]);
            leg.append("text")
                .attr("x", lx + 46).attr("y", ly + 13 + s * 21)
                .attr("dy", "0.35em")
                .style("font-size", "14px")
                .text(name);
        });
    });
</script>
</body>
</html>
